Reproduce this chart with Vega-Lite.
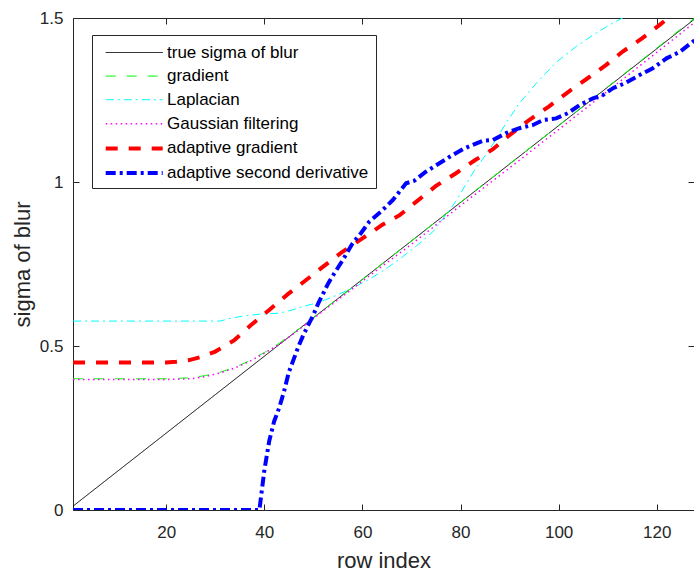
{
  "$schema": "https://vega.github.io/schema/vega-lite/v6.json",
  "width": 621,
  "height": 492,
  "autosize": {"type": "none"},
  "padding": {"left": 73, "top": 18, "right": 0, "bottom": 64},
  "background": "white",
  "config": {
    "view": {"stroke": null},
    "font": "Liberation Sans",
    "axis": {
      "grid": false,
      "domainColor": "#262626",
      "domainWidth": 1,
      "tickColor": "#262626",
      "tickWidth": 1,
      "tickSize": -6,
      "labelFont": "Liberation Sans",
      "labelFontSize": 17,
      "labelColor": "#262626",
      "titleFont": "Liberation Sans",
      "titleFontSize": 22,
      "titleFontWeight": "normal",
      "titleColor": "#262626"
    }
  },
  "data": {
    "values": [
      {"s": "true sigma of blur", "x": 1, "y": 0.0117},
      {"s": "true sigma of blur", "x": 32, "y": 0.375},
      {"s": "true sigma of blur", "x": 64, "y": 0.75},
      {"s": "true sigma of blur", "x": 96, "y": 1.125},
      {"s": "true sigma of blur", "x": 128, "y": 1.5},

      {"s": "gradient", "x": 1, "y": 0.4},
      {"s": "gradient", "x": 10, "y": 0.4},
      {"s": "gradient", "x": 20, "y": 0.4},
      {"s": "gradient", "x": 25, "y": 0.403},
      {"s": "gradient", "x": 28, "y": 0.41},
      {"s": "gradient", "x": 31, "y": 0.42},
      {"s": "gradient", "x": 34, "y": 0.435},
      {"s": "gradient", "x": 37, "y": 0.455},
      {"s": "gradient", "x": 40, "y": 0.48},
      {"s": "gradient", "x": 43, "y": 0.508},
      {"s": "gradient", "x": 46, "y": 0.54},
      {"s": "gradient", "x": 49, "y": 0.574},
      {"s": "gradient", "x": 52, "y": 0.61},
      {"s": "gradient", "x": 56, "y": 0.656},
      {"s": "gradient", "x": 60, "y": 0.703},
      {"s": "gradient", "x": 64, "y": 0.75},
      {"s": "gradient", "x": 70, "y": 0.82},
      {"s": "gradient", "x": 80, "y": 0.938},
      {"s": "gradient", "x": 90, "y": 1.055},
      {"s": "gradient", "x": 100, "y": 1.172},
      {"s": "gradient", "x": 110, "y": 1.29},
      {"s": "gradient", "x": 120, "y": 1.408},
      {"s": "gradient", "x": 128, "y": 1.503},

      {"s": "Laplacian", "x": 1, "y": 0.576},
      {"s": "Laplacian", "x": 31, "y": 0.576},
      {"s": "Laplacian", "x": 33, "y": 0.584},
      {"s": "Laplacian", "x": 36, "y": 0.592},
      {"s": "Laplacian", "x": 39, "y": 0.597},
      {"s": "Laplacian", "x": 43, "y": 0.6},
      {"s": "Laplacian", "x": 45, "y": 0.607},
      {"s": "Laplacian", "x": 48.5, "y": 0.623},
      {"s": "Laplacian", "x": 51, "y": 0.632},
      {"s": "Laplacian", "x": 54, "y": 0.65},
      {"s": "Laplacian", "x": 58, "y": 0.677},
      {"s": "Laplacian", "x": 61, "y": 0.7},
      {"s": "Laplacian", "x": 64, "y": 0.727},
      {"s": "Laplacian", "x": 67.6, "y": 0.765},
      {"s": "Laplacian", "x": 71, "y": 0.805},
      {"s": "Laplacian", "x": 74.4, "y": 0.849},
      {"s": "Laplacian", "x": 77, "y": 0.899},
      {"s": "Laplacian", "x": 79, "y": 0.94},
      {"s": "Laplacian", "x": 81, "y": 0.99},
      {"s": "Laplacian", "x": 83, "y": 1.04},
      {"s": "Laplacian", "x": 85, "y": 1.08},
      {"s": "Laplacian", "x": 87.3, "y": 1.13},
      {"s": "Laplacian", "x": 89.3, "y": 1.18},
      {"s": "Laplacian", "x": 92, "y": 1.24},
      {"s": "Laplacian", "x": 95.4, "y": 1.3},
      {"s": "Laplacian", "x": 99.5, "y": 1.365},
      {"s": "Laplacian", "x": 103.6, "y": 1.413},
      {"s": "Laplacian", "x": 107, "y": 1.448},
      {"s": "Laplacian", "x": 110.4, "y": 1.479},
      {"s": "Laplacian", "x": 113, "y": 1.5},
      {"s": "Laplacian", "x": 118, "y": 1.53},
      {"s": "Laplacian", "x": 128, "y": 1.58},

      {"s": "Gaussian filtering", "x": 1, "y": 0.398},
      {"s": "Gaussian filtering", "x": 20, "y": 0.398},
      {"s": "Gaussian filtering", "x": 25, "y": 0.4},
      {"s": "Gaussian filtering", "x": 28, "y": 0.407},
      {"s": "Gaussian filtering", "x": 31, "y": 0.418},
      {"s": "Gaussian filtering", "x": 34, "y": 0.433},
      {"s": "Gaussian filtering", "x": 37, "y": 0.453},
      {"s": "Gaussian filtering", "x": 40, "y": 0.478},
      {"s": "Gaussian filtering", "x": 43, "y": 0.505},
      {"s": "Gaussian filtering", "x": 46, "y": 0.538},
      {"s": "Gaussian filtering", "x": 49, "y": 0.572},
      {"s": "Gaussian filtering", "x": 52, "y": 0.607},
      {"s": "Gaussian filtering", "x": 56, "y": 0.652},
      {"s": "Gaussian filtering", "x": 60, "y": 0.698},
      {"s": "Gaussian filtering", "x": 64, "y": 0.743},
      {"s": "Gaussian filtering", "x": 70, "y": 0.81},
      {"s": "Gaussian filtering", "x": 80, "y": 0.928},
      {"s": "Gaussian filtering", "x": 90, "y": 1.043},
      {"s": "Gaussian filtering", "x": 100, "y": 1.16},
      {"s": "Gaussian filtering", "x": 110, "y": 1.277},
      {"s": "Gaussian filtering", "x": 120, "y": 1.395},
      {"s": "Gaussian filtering", "x": 128, "y": 1.49},

      {"s": "adaptive gradient", "x": 1, "y": 0.45},
      {"s": "adaptive gradient", "x": 20, "y": 0.45},
      {"s": "adaptive gradient", "x": 22, "y": 0.452},
      {"s": "adaptive gradient", "x": 24.7, "y": 0.457},
      {"s": "adaptive gradient", "x": 27, "y": 0.466},
      {"s": "adaptive gradient", "x": 30, "y": 0.483},
      {"s": "adaptive gradient", "x": 33.9, "y": 0.518},
      {"s": "adaptive gradient", "x": 37.3, "y": 0.564},
      {"s": "adaptive gradient", "x": 41, "y": 0.61},
      {"s": "adaptive gradient", "x": 44.8, "y": 0.658},
      {"s": "adaptive gradient", "x": 48, "y": 0.695},
      {"s": "adaptive gradient", "x": 52, "y": 0.742},
      {"s": "adaptive gradient", "x": 56, "y": 0.788},
      {"s": "adaptive gradient", "x": 60, "y": 0.828},
      {"s": "adaptive gradient", "x": 64, "y": 0.869},
      {"s": "adaptive gradient", "x": 67.6, "y": 0.899},
      {"s": "adaptive gradient", "x": 71, "y": 0.94},
      {"s": "adaptive gradient", "x": 75, "y": 0.988},
      {"s": "adaptive gradient", "x": 79, "y": 1.026},
      {"s": "adaptive gradient", "x": 83, "y": 1.067},
      {"s": "adaptive gradient", "x": 86.6, "y": 1.1},
      {"s": "adaptive gradient", "x": 90, "y": 1.143},
      {"s": "adaptive gradient", "x": 94, "y": 1.189},
      {"s": "adaptive gradient", "x": 98, "y": 1.23},
      {"s": "adaptive gradient", "x": 102, "y": 1.275},
      {"s": "adaptive gradient", "x": 105.7, "y": 1.314},
      {"s": "adaptive gradient", "x": 109.7, "y": 1.357},
      {"s": "adaptive gradient", "x": 113, "y": 1.397},
      {"s": "adaptive gradient", "x": 117, "y": 1.438},
      {"s": "adaptive gradient", "x": 120.6, "y": 1.479},
      {"s": "adaptive gradient", "x": 124, "y": 1.52},
      {"s": "adaptive gradient", "x": 128, "y": 1.56},

      {"s": "adaptive second derivative", "x": 1, "y": 0},
      {"s": "adaptive second derivative", "x": 20, "y": 0},
      {"s": "adaptive second derivative", "x": 39, "y": 0},
      {"s": "adaptive second derivative", "x": 40, "y": 0.12},
      {"s": "adaptive second derivative", "x": 41, "y": 0.21},
      {"s": "adaptive second derivative", "x": 42, "y": 0.27},
      {"s": "adaptive second derivative", "x": 43, "y": 0.31},
      {"s": "adaptive second derivative", "x": 44, "y": 0.36},
      {"s": "adaptive second derivative", "x": 45, "y": 0.42},
      {"s": "adaptive second derivative", "x": 46, "y": 0.46},
      {"s": "adaptive second derivative", "x": 47, "y": 0.5},
      {"s": "adaptive second derivative", "x": 48, "y": 0.535},
      {"s": "adaptive second derivative", "x": 49, "y": 0.565},
      {"s": "adaptive second derivative", "x": 50, "y": 0.595},
      {"s": "adaptive second derivative", "x": 51, "y": 0.63},
      {"s": "adaptive second derivative", "x": 52, "y": 0.66},
      {"s": "adaptive second derivative", "x": 53, "y": 0.69},
      {"s": "adaptive second derivative", "x": 54, "y": 0.715},
      {"s": "adaptive second derivative", "x": 56, "y": 0.762},
      {"s": "adaptive second derivative", "x": 58, "y": 0.813},
      {"s": "adaptive second derivative", "x": 59.7, "y": 0.844},
      {"s": "adaptive second derivative", "x": 61.4, "y": 0.879},
      {"s": "adaptive second derivative", "x": 63.8, "y": 0.91},
      {"s": "adaptive second derivative", "x": 66.2, "y": 0.945},
      {"s": "adaptive second derivative", "x": 68.9, "y": 0.996},
      {"s": "adaptive second derivative", "x": 70.6, "y": 1.004},
      {"s": "adaptive second derivative", "x": 73, "y": 1.032},
      {"s": "adaptive second derivative", "x": 75.7, "y": 1.057},
      {"s": "adaptive second derivative", "x": 77.8, "y": 1.077},
      {"s": "adaptive second derivative", "x": 80.5, "y": 1.1},
      {"s": "adaptive second derivative", "x": 82, "y": 1.11},
      {"s": "adaptive second derivative", "x": 84.6, "y": 1.126},
      {"s": "adaptive second derivative", "x": 86.6, "y": 1.128},
      {"s": "adaptive second derivative", "x": 89.3, "y": 1.149},
      {"s": "adaptive second derivative", "x": 92, "y": 1.164},
      {"s": "adaptive second derivative", "x": 94.8, "y": 1.174},
      {"s": "adaptive second derivative", "x": 96.8, "y": 1.189},
      {"s": "adaptive second derivative", "x": 99.5, "y": 1.194},
      {"s": "adaptive second derivative", "x": 101.9, "y": 1.21},
      {"s": "adaptive second derivative", "x": 104.3, "y": 1.235},
      {"s": "adaptive second derivative", "x": 107, "y": 1.255},
      {"s": "adaptive second derivative", "x": 109, "y": 1.265},
      {"s": "adaptive second derivative", "x": 111.1, "y": 1.286},
      {"s": "adaptive second derivative", "x": 113.5, "y": 1.301},
      {"s": "adaptive second derivative", "x": 116.5, "y": 1.326},
      {"s": "adaptive second derivative", "x": 119.2, "y": 1.347},
      {"s": "adaptive second derivative", "x": 122, "y": 1.377},
      {"s": "adaptive second derivative", "x": 124.7, "y": 1.397},
      {"s": "adaptive second derivative", "x": 127.4, "y": 1.428},
      {"s": "adaptive second derivative", "x": 128, "y": 1.435}
    ]
  },
  "layer": [
    {
      "mark": {"type": "line", "clip": true},
      "encoding": {
        "x": {
          "field": "x", "type": "quantitative",
          "scale": {"domain": [1, 127.6], "nice": false, "zero": false},
          "axis": {"orient": "bottom", "title": "row index", "values": [20, 40, 60, 80, 100, 120], "labelPadding": 20, "titlePadding": 10}
        },
        "y": {
          "field": "y", "type": "quantitative",
          "scale": {"domain": [0, 1.5], "nice": false},
          "axis": {"orient": "left", "title": "sigma of blur", "values": [0, 0.5, 1, 1.5], "format": "~g", "labelPadding": 16, "titlePadding": 5}
        },
        "color": {
          "field": "s", "type": "nominal",
          "scale": {
            "domain": ["true sigma of blur", "gradient", "Laplacian", "Gaussian filtering", "adaptive gradient", "adaptive second derivative"],
            "range": ["#000000", "#00ff00", "#00ffff", "#ff00ff", "#ff0000", "#0000ff"]
          },
          "legend": {"title": null, "orient": "none", "legendX": 19, "legendY": 17, "symbolType": "M-0.53,0H5.17", "symbolSize": 400, "labelFont": "Liberation Sans", "labelFontSize": 17, "labelLimit": 0, "labelColor": "#000000", "labelOffset": 44, "rowPadding": 4.6, "padding": 7, "strokeColor": "#262626", "fillColor": "#ffffff"}
        },
        "strokeDash": {
          "field": "s", "type": "nominal",
          "scale": {
            "domain": ["true sigma of blur", "gradient", "Laplacian", "Gaussian filtering", "adaptive gradient", "adaptive second derivative"],
            "range": [[1, 0], [10, 11], [8, 4, 2, 4], [1.5, 3.5], [12, 11], [10, 4, 3, 4]]
          },
          "legend": {"title": null, "orient": "none", "legendX": 19, "legendY": 17, "symbolType": "M-0.53,0H5.17", "symbolSize": 400, "labelFont": "Liberation Sans", "labelFontSize": 17, "labelLimit": 0, "labelColor": "#000000", "labelOffset": 44, "rowPadding": 4.6, "padding": 7, "strokeColor": "#262626", "fillColor": "#ffffff"}
        },
        "strokeWidth": {
          "field": "s", "type": "nominal",
          "scale": {
            "type": "ordinal",
            "domain": ["true sigma of blur", "gradient", "Laplacian", "Gaussian filtering", "adaptive gradient", "adaptive second derivative"],
            "range": [1, 1, 1, 1.5, 4, 4]
          },
          "legend": {"title": null, "orient": "none", "legendX": 19, "legendY": 17, "symbolType": "M-0.53,0H5.17", "symbolSize": 400, "labelFont": "Liberation Sans", "labelFontSize": 17, "labelLimit": 0, "labelColor": "#000000", "labelOffset": 44, "rowPadding": 4.6, "padding": 7, "strokeColor": "#262626", "fillColor": "#ffffff"}
        }
      }
    },
    {
      "mark": {"type": "line", "strokeOpacity": 0, "clip": true},
      "encoding": {
        "x": {"field": "x", "type": "quantitative", "axis": {"orient": "top", "title": null, "labels": false, "values": [20, 40, 60, 80, 100, 120]}},
        "y": {"field": "y", "type": "quantitative", "axis": {"orient": "right", "title": null, "labels": false, "values": [0, 0.5, 1, 1.5]}},
        "detail": {"field": "s"}
      }
    }
  ],
  "resolve": {"axis": {"x": "independent", "y": "independent"}}
}
